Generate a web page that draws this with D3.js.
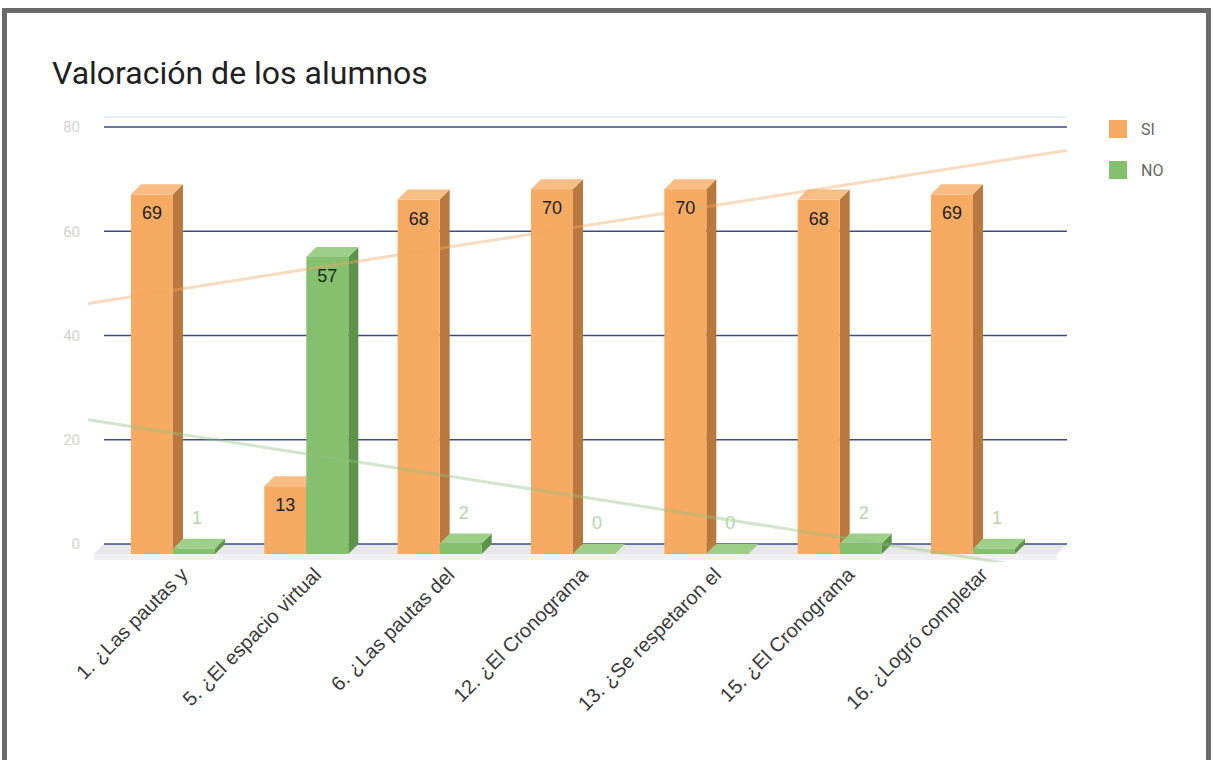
<!DOCTYPE html>
<html>
<head>
<meta charset="utf-8">
<script src="https://cdn.jsdelivr.net/npm/d3@7"></script>
<style>
  html, body { margin: 0; padding: 0; background: #ffffff; }
  svg { display: block; }
</style>
</head>
<body>
<svg id="chart" width="1213" height="760"></svg>
<script>
// ---- data ----
const categories = [
  "1. ¿Las pautas y",
  "5. ¿El espacio virtual",
  "6. ¿Las pautas del",
  "12. ¿El Cronograma",
  "13. ¿Se respetaron el",
  "15. ¿El Cronograma",
  "16. ¿Logró completar"
];
const seriesNames = ["SI", "NO"];
const siValues = [69, 13, 68, 70, 70, 68, 69];
const noValues = [1, 57, 2, 0, 0, 2, 1];
const yTicks = [0, 20, 40, 60, 80];
const chartTitle = "Valoración de los alumnos";

const colors = {
  SI: { front: "#f6aa62", side: "#b9783d", top: "#f8bd85", trend: "#f6aa62", label: "#222222", outLabel: "#f2c8a0" },
  NO: { front: "#84c06e", side: "#5b9348", top: "#9dcf88", trend: "#94c483", label: "#1f2a1a", outLabel: "#b4d6a6" }
};

const svg = d3.select("#chart");
const D = 10; // 3D depth offset

// outer frame
svg.append("rect")
  .attr("x", 4.5).attr("y", 10.5)
  .attr("width", 1204).attr("height", 800)
  .attr("fill", "none").attr("stroke", "#6a6a6a").attr("stroke-width", 5);

// title
svg.append("text")
  .attr("x", 52).attr("y", 84)
  .attr("font-family", "Roboto, 'Open Sans', sans-serif")
  .attr("font-size", 32)
  .attr("fill", "#212121")
  .text(chartTitle);

// scales (back plane)
const y = d3.scaleLinear().domain([0, 80]).range([544, 127]);
const x = d3.scaleBand().domain(categories).range([116.3, 1049.7]).paddingInner(0).paddingOuter(0);
const xs = d3.scaleBand().domain(seriesNames).range([0, x.bandwidth()]).paddingInner(0).paddingOuter(0.587);

const gridLeft = 104, gridRight = 1067;

// floor
const floor = svg.append("g");
floor.append("polygon")
  .attr("points", [[gridLeft, y(0)], [gridRight, y(0)], [gridRight - D, y(0) + D], [gridLeft - D, y(0) + D]].map(p => p.join(",")).join(" "))
  .attr("fill", "#e7e7e9");
floor.append("rect")
  .attr("x", gridLeft - D).attr("y", y(0) + D)
  .attr("width", gridRight - gridLeft).attr("height", 6)
  .attr("fill", "#f1f1f3");

// faint top boundary
svg.append("line")
  .attr("x1", gridLeft).attr("x2", gridRight)
  .attr("y1", 117).attr("y2", 117)
  .attr("stroke", "#eceef6").attr("stroke-width", 2);

// gridlines
const grid = svg.append("g");
grid.selectAll("line").data(yTicks).join("line")
  .attr("x1", gridLeft).attr("x2", gridRight)
  .attr("y1", d => y(d)).attr("y2", d => y(d))
  .attr("stroke", "#3a4d8a").attr("stroke-width", 1.6);

// y tick labels via axis
const yAxis = d3.axisLeft(y).tickValues(yTicks).tickSize(0).tickPadding(0);
const yg = svg.append("g").attr("transform", "translate(80,0)").call(yAxis);
yg.select(".domain").remove();
yg.selectAll("text")
  .attr("font-family", "Roboto, sans-serif")
  .attr("font-size", 15)
  .attr("fill", "#d2d2d2");

// bars
const rows = [];
categories.forEach((c, i) => {
  rows.push({ cat: c, s: "SI", v: siValues[i], i });
  rows.push({ cat: c, s: "NO", v: noValues[i], i });
});

const bars = svg.append("g");
rows.forEach(r => {
  const w = xs.bandwidth();
  const bx = x(r.cat) + xs(r.s);      // back-plane left
  const fx = bx - D;                   // front left
  const fTop = y(r.v) + D;
  const fBot = y(0) + D;
  const col = colors[r.s];
  const g = bars.append("g");
  g.append("polygon")
    .attr("points", [[fx + w, fTop], [fx + w + D, fTop - D], [fx + w + D, fBot - D], [fx + w, fBot]].map(p => p.join(",")).join(" "))
    .attr("fill", col.side);
  g.append("rect")
    .attr("x", fx).attr("y", fTop)
    .attr("width", w).attr("height", Math.max(0, fBot - fTop))
    .attr("fill", col.front);
  g.append("polygon")
    .attr("points", [[fx, fTop], [fx + D, fTop - D], [fx + w + D, fTop - D], [fx + w, fTop]].map(p => p.join(",")).join(" "))
    .attr("fill", col.top);
  r.fx = fx; r.fTop = fTop; r.w = w; r.h = fBot - fTop;
});

// trendlines (linear regression over category index)
const idx = d3.range(categories.length);
const centerScale = d3.scaleLinear()
  .domain([0, categories.length - 1])
  .range([x(categories[0]) + x.bandwidth() / 2, x(categories[categories.length - 1]) + x.bandwidth() / 2]);
function regression(vals) {
  const mx = d3.mean(idx), my = d3.mean(vals);
  const b = d3.sum(idx, i => (i - mx) * (vals[i] - my)) / d3.sum(idx, i => (i - mx) * (i - mx));
  return { a: my - b * mx, b };
}
const clip = svg.append("defs").append("clipPath").attr("id", "plotclip");
clip.append("rect").attr("x", 88).attr("y", 110).attr("width", gridRight - 88).attr("height", 562 - 110);
const trendG = svg.append("g").attr("clip-path", "url(#plotclip)");
[["SI", siValues], ["NO", noValues]].forEach(([s, vals]) => {
  const reg = regression(vals);
  const i0 = centerScale.invert(88), i1 = centerScale.invert(gridRight);
  trendG.append("line")
    .attr("x1", 88).attr("y1", y(reg.a + reg.b * i0))
    .attr("x2", gridRight).attr("y2", y(reg.a + reg.b * i1))
    .attr("stroke", colors[s].trend)
    .attr("stroke-opacity", 0.42)
    .attr("stroke-width", 3);
});

// data labels
const labels = svg.append("g")
  .attr("font-family", "'Liberation Sans', Arial, sans-serif")
  .attr("font-size", 18);
rows.forEach(r => {
  const inside = r.h > 40;
  labels.append("text")
    .attr("x", r.fx + r.w / 2 + (inside ? 0 : 3))
    .attr("y", inside ? r.fTop + 19 : r.fTop - 31)
    .attr("text-anchor", "middle")
    .attr("dominant-baseline", "central")
    .attr("fill", inside ? colors[r.s].label : colors[r.s].outLabel)
    .text(r.v);
});

// x axis labels
const xl = svg.append("g")
  .attr("font-family", "'Liberation Sans', Arial, sans-serif")
  .attr("font-size", 20)
  .attr("fill", "#3a3a3a");
categories.forEach(c => {
  const cx = x(c) + x.bandwidth() / 2 - D;
  xl.append("text")
    .attr("transform", `translate(${cx + 16},${576}) rotate(-45)`)
    .attr("text-anchor", "end")
    .text(c);
});

// legend
const legend = svg.append("g");
seriesNames.forEach((s, k) => {
  const ly = 120 + k * 41;
  legend.append("rect")
    .attr("x", 1109).attr("y", ly)
    .attr("width", 18).attr("height", 18)
    .attr("fill", colors[s].front);
  legend.append("text")
    .attr("x", 1141).attr("y", ly + 9)
    .attr("dominant-baseline", "central")
    .attr("font-family", "Roboto, sans-serif")
    .attr("font-size", 16)
    .attr("fill", "#666666")
    .text(s);
});
</script>
</body>
</html>
